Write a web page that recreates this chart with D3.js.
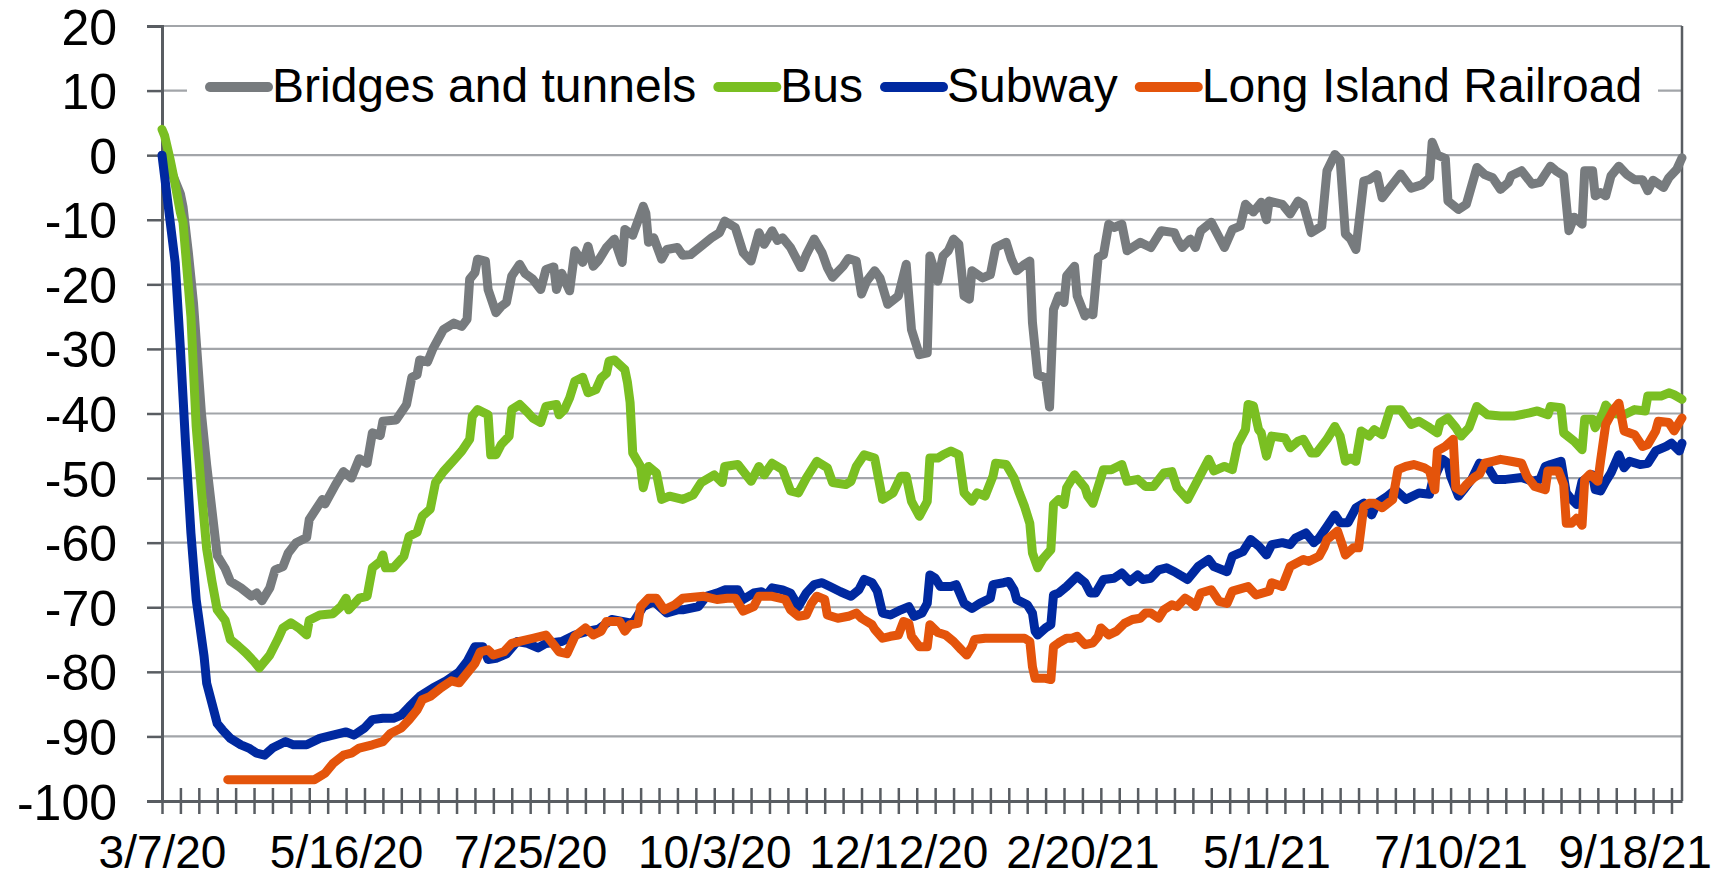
<!DOCTYPE html>
<html>
<head>
<meta charset="utf-8">
<script src="https://cdn.jsdelivr.net/npm/d3@7"></script>
<style>
  body { margin: 0; background: #fff; }
  svg text { font-family: "Liberation Sans", Arial, sans-serif; fill: #000; }
</style>
</head>
<body>
<div id="chart"></div>
<script>
// ridership, % change from pre-pandemic level
// each point is [days since startDate, value]
var startDate = "3/7/20";
var lastDay = 578;

var xTickLabels = ["3/7/20", "5/16/20", "7/25/20", "10/3/20", "12/12/20", "2/20/21", "5/1/21", "7/10/21", "9/18/21"];
var yTicks = [20, 10, 0, -10, -20, -30, -40, -50, -60, -70, -80, -90, -100];

var seriesNames = ["Bridges and tunnels", "Bus", "Subway", "Long Island Railroad"];
var seriesColors = ["#777b7e", "#7abf22", "#0029a0", "#e4540b"];

var bridgesTunnels = [[0,0],[4,-3],[7,-6],[8,-8],[10,-15],[12,-23],[15,-40],[17,-48],[19,-55],[21,-62],[24,-64],[26,-66],[30,-67],[34,-68.3],[36,-67.8],[38,-69],[41,-67],[43,-64.2],[46,-63.7],[48,-61.6],[51,-60],[55,-59.2],[56,-56.4],[61,-53.3],[62,-54],[66,-51],[69,-49],[72,-50],[75,-47],[78,-47.7],[80,-43],[83,-43.4],[84,-41.2],[89,-41],[93,-38.6],[95,-34.4],[97,-34],[98,-31.7],[101,-32],[103,-30],[105,-28.5],[107,-27],[111,-26],[114,-26.5],[116,-25.4],[117,-19.2],[119,-18.2],[120,-16.1],[123,-16.4],[124,-20.8],[127,-24.4],[129,-23.4],[131,-22.8],[133,-18.7],[136,-16.9],[138,-18.3],[141,-19.2],[144,-20.8],[146,-17.7],[149,-17.3],[150,-20.8],[152,-18.3],[155,-21],[157,-14.8],[160,-16.6],[162,-14.1],[164,-17.2],[166,-16.3],[169,-14.3],[172,-13],[175,-16.6],[176,-11.5],[179,-12.4],[183,-7.9],[184,-9],[185,-13.5],[187,-12.8],[190,-16.1],[192,-14.6],[196,-14.3],[198,-15.5],[201,-15.4],[205,-14.1],[209,-12.8],[212,-12],[214,-10.2],[218,-11.2],[221,-15.1],[224,-16.4],[227,-12],[229,-13.8],[232,-11.7],[234,-13.2],[236,-12.8],[239,-14.3],[243,-17.4],[245,-15.4],[248,-13],[251,-15.1],[253,-17.4],[255,-18.9],[259,-17.2],[261,-16],[264,-16.4],[266,-21.5],[268,-19.5],[271,-17.9],[273,-19],[276,-23.1],[280,-21.8],[283,-16.9],[285,-27],[288,-30.9],[291,-30.6],[292,-15.6],[295,-19.5],[297,-15.6],[299,-14.8],[301,-13],[303,-13.8],[305,-21.8],[307,-22.3],[308,-17.9],[312,-19],[315,-18.5],[317,-14.3],[321,-13.5],[323,-16.1],[325,-17.9],[328,-16.9],[330,-16.4],[331,-25.9],[333,-34],[336,-34.5],[337.5,-39],[339,-23.9],[341,-21.8],[343,-22.8],[344,-18.7],[347,-17.2],[348,-21.8],[351,-24.9],[352,-24.4],[354,-24.7],[356,-15.8],[358,-15.4],[360,-10.7],[362,-11.2],[365,-10.7],[367,-14.8],[372,-13.5],[376,-14.3],[380,-11.7],[385,-12],[386,-13],[388,-14.3],[391,-13],[393,-14.3],[395,-11.7],[399,-10.4],[404,-14.3],[407,-11.5],[410,-11],[412,-7.6],[415,-8.8],[418,-7.3],[420,-10],[421,-7.1],[426,-7.6],[429,-9.1],[432,-7.1],[434,-7.6],[437,-12],[441,-11],[443,-2.4],[446,0.1],[448,-0.7],[450,-12.2],[452,-13],[454,-14.6],[457,-4],[459,-3.8],[462,-3],[464,-6.6],[467,-5],[471,-2.9],[475,-5.1],[479,-4.6],[482,-3.5],[483,2],[485,0],[488,-0.5],[489,-7.1],[493,-8.4],[496,-7.6],[500,-1.9],[503,-3],[506,-3.5],[509,-5.3],[512,-4.2],[513,-3.2],[517,-2.4],[521,-4.5],[524,-4.2],[528,-1.7],[530,-2.4],[533,-3.2],[535,-11.7],[537,-9.6],[540,-10.7],[541,-2.4],[544,-2.4],[545,-6.3],[547,-5.8],[549,-6.3],[551,-3.2],[554,-1.7],[557,-3],[560,-3.8],[563,-3.8],[565,-5.5],[567,-3.9],[571,-5],[573,-3.5],[576,-2.2],[578,-0.4]];

var bus = [[0,4],[1,3],[3,-0.5],[5,-4.5],[7,-8.9],[8,-10.4],[11,-25],[13,-42],[15,-52],[17,-61],[19,-66],[21,-70.4],[24,-72],[26,-75],[29,-76],[32,-77.1],[35,-78.4],[37,-79.4],[41,-77.4],[44,-75],[46,-73.2],[49,-72.4],[52,-73.2],[55,-74.3],[56,-72],[60,-71.2],[65,-71],[68,-69.9],[70,-68.6],[71,-70.4],[75,-68.6],[78,-68.3],[80,-63.9],[83,-62.9],[84,-61.9],[85,-63.9],[88,-63.9],[92,-62.1],[94,-59],[97,-58.4],[99,-55.9],[102,-54.8],[104,-50.7],[107,-49],[111,-47.2],[114,-45.8],[117,-44],[118,-40.4],[120,-39.4],[124,-40.2],[125,-46.4],[127,-46.4],[129,-44.8],[132,-43.5],[133,-39.4],[136,-38.6],[139,-39.8],[141,-40.7],[144,-41.4],[146,-38.9],[150,-38.6],[151,-40.2],[153,-39.4],[155,-37.6],[157,-35],[160,-34.4],[162,-36.8],[165,-36.3],[167,-34.5],[169,-33.8],[170,-31.9],[172,-31.7],[176,-33.2],[177,-35.2],[178,-38.3],[179,-46.1],[182,-48.2],[183,-51.5],[185,-48.2],[188,-49.2],[190,-53.3],[193,-52.8],[198,-53.3],[202,-52.6],[205,-50.7],[210,-49.5],[213,-50.7],[214,-48.2],[219,-47.9],[224,-50.5],[227,-48.2],[229,-49.5],[232,-47.7],[236,-48.7],[239,-52],[242,-52.3],[245,-50],[249,-47.4],[253,-48.4],[255,-50.7],[260,-51],[262,-50.5],[264,-48.2],[267,-46.4],[271,-46.9],[274,-53.3],[278,-52.3],[281,-49.7],[283,-49.7],[285,-53.6],[288,-55.9],[291,-53.6],[292,-46.9],[295,-46.9],[297,-46.4],[300,-45.8],[303,-46.4],[305,-52.3],[308,-53.6],[310,-52.3],[313,-52.8],[316,-49.7],[317,-47.7],[321,-47.9],[324,-50],[326,-52.3],[328,-54.4],[330,-57],[331,-61.6],[333,-63.9],[335,-62.5],[338,-61.1],[339,-54.1],[341,-53.3],[343,-54.1],[344,-51.5],[347,-49.5],[351,-51.5],[352,-52.8],[354,-53.9],[356,-51.3],[358,-48.7],[361,-48.7],[365,-47.9],[367,-50.5],[371,-50.2],[374,-51.3],[377,-51.3],[381,-49.2],[384,-49],[386,-51.5],[390,-53.3],[394,-50.2],[398,-47.1],[400,-48.9],[404,-48.2],[407,-48.7],[409,-44.8],[412,-42.5],[413,-38.6],[415,-38.8],[417,-42.5],[418,-43],[420,-46.6],[422,-43.5],[427,-43.8],[429,-45.3],[432,-44.3],[434,-44],[437,-46.1],[439,-46.1],[443,-44],[446,-42],[448,-43.5],[450,-47.4],[452,-46.9],[454,-47.4],[456,-42.7],[459,-43.5],[461,-42.5],[464,-43.3],[467,-39.4],[471,-39.4],[475,-41.7],[478,-41.2],[482,-42.2],[485,-43],[486,-41.4],[489,-40.7],[492,-42.2],[494,-43.5],[497,-42.2],[500,-38.9],[504,-40.2],[509,-40.4],[514,-40.4],[520,-39.9],[523,-39.6],[527,-40.2],[528,-38.9],[532,-39.1],[533,-43],[537,-44.3],[540,-45.6],[541,-40.9],[544,-40.9],[545,-42.2],[548,-39.9],[549,-38.7],[552,-40],[556,-40.2],[560,-39.4],[564,-39.6],[565,-37.3],[570,-37.3],[573,-36.8],[575,-37.1],[578,-37.8]];

var subway = [[0,0],[5,-16.6],[7,-30],[9,-45],[11,-58.5],[13,-68.8],[16,-77.6],[17,-81.8],[19,-84.9],[21,-88],[23,-89],[26,-90.3],[30,-91.3],[33,-91.8],[36,-92.6],[39,-92.9],[42,-91.8],[47,-90.8],[50,-91.3],[55,-91.3],[60,-90.3],[65,-89.8],[70,-89.3],[73,-89.8],[77,-88.7],[80,-87.4],[84,-87.2],[88,-87.2],[91,-86.7],[94,-85.4],[98,-83.8],[103,-82.5],[108,-81.4],[113,-80],[116,-78.4],[119,-76.1],[122,-76.1],[124,-78.1],[127,-77.9],[131,-77.2],[135,-75.3],[139,-75.6],[143,-76.3],[146,-75.6],[152,-75.3],[157,-74.3],[162,-73.7],[166,-73.4],[171,-71.9],[175,-72.2],[179,-72.5],[183,-69.9],[187,-69.1],[192,-70.9],[196,-70.4],[198,-70.4],[204,-69.9],[207,-68.3],[211,-67.8],[214,-67.3],[219,-67.3],[221,-68.8],[225,-67.8],[228,-67.6],[230,-68.1],[232,-67],[236,-67.3],[239,-67.8],[242,-69.9],[245,-67.8],[248,-66.5],[251,-66.2],[254,-66.8],[258,-67.6],[262,-68.3],[265,-67.3],[267,-65.7],[270,-66.2],[272,-67.5],[274,-70.9],[277,-71.2],[281,-70.4],[284,-69.9],[286,-71.4],[289,-70.9],[291,-69.4],[292,-65],[294,-65.5],[296,-66.8],[300,-66.8],[302,-66.5],[305,-69.4],[308,-70.2],[311,-69.4],[315,-68.6],[316,-66.5],[320,-66.2],[322,-66],[324,-67.3],[325,-68.8],[329,-69.6],[331,-70.9],[332,-73.7],[333,-74.3],[336,-73.2],[338,-72.7],[339,-68.1],[341,-67.8],[344,-66.8],[348,-65.2],[351,-66.2],[353,-67.8],[355,-67.8],[358,-65.7],[362,-65.5],[365,-64.7],[368,-66],[371,-65],[373,-65.7],[376,-65.5],[379,-64.2],[382,-63.9],[385,-64.5],[387,-65],[390,-65.7],[394,-63.7],[398,-62.6],[400,-63.7],[405,-64.5],[407,-62.1],[411,-61.4],[414,-59.5],[417,-60.5],[420,-61.9],[422,-60.3],[426,-60],[429,-60.3],[431,-59.3],[435,-58.5],[438,-60],[440,-59.3],[443,-57.5],[446,-55.7],[448,-56.9],[451,-56.9],[454,-54.6],[457,-53.9],[460,-55.7],[462,-53.9],[466,-52.8],[469,-51.8],[473,-53.3],[478,-52.3],[482,-52.5],[483,-50.7],[487,-47.1],[489,-47.7],[490,-49.7],[493,-52.8],[495,-51.8],[498,-50.2],[501,-47.7],[504,-48.2],[507,-50.2],[511,-50.2],[517,-49.9],[521,-50.5],[524,-50.2],[526,-48.2],[528,-47.9],[532,-47.4],[534,-52.3],[536,-53.3],[538,-54.1],[540,-50.5],[544,-49.5],[545,-51.8],[547,-52],[549,-50.5],[551,-49.2],[554,-46.4],[556,-48.4],[558,-47.4],[562,-47.9],[565,-47.7],[568,-45.8],[572,-45.1],[574,-44.6],[577,-45.8],[578,-44.6]];

var longIslandRailroad = [[25,-96.7],[58,-96.7],[62,-95.7],[65,-94.2],[69,-92.9],[72,-92.6],[75,-91.8],[80,-91.3],[84,-90.8],[87,-89.5],[91,-88.7],[94,-87.4],[97,-85.9],[99,-84.3],[102,-83.8],[106,-82.5],[110,-81.4],[113,-81.7],[116,-80.2],[119,-78.7],[121,-76.9],[124,-76.6],[126,-77.4],[130,-76.9],[133,-75.6],[136,-75.3],[141,-74.8],[146,-74.3],[148,-75.3],[151,-76.9],[154,-77.2],[157,-74.5],[161,-73.2],[164,-74.3],[167,-73.7],[169,-72.2],[174,-72.2],[176,-73.7],[178,-72.7],[181,-72.5],[182,-69.9],[185,-68.6],[188,-68.6],[191,-70.4],[195,-69.6],[198,-68.6],[206,-68.3],[211,-68.8],[215,-68.6],[218,-68.6],[221,-70.6],[225,-69.9],[227,-68.3],[232,-68.3],[237,-68.8],[239,-70.4],[242,-71.4],[245,-71.2],[247,-69.4],[249,-68.3],[252,-68.8],[253,-71.2],[257,-71.7],[261,-71.4],[264,-70.9],[266,-71.7],[270,-72.7],[271,-73.4],[274,-74.8],[277,-74.5],[280,-74.3],[282,-72.2],[284,-72.5],[285,-74.5],[288,-76.1],[291,-76.1],[292,-72.7],[295,-73.9],[298,-74.3],[301,-75.3],[304,-76.6],[306,-77.4],[308,-76.1],[309,-75],[313,-74.8],[322,-74.8],[328,-74.8],[330,-75.3],[331,-79.2],[332,-81],[336,-81],[338,-81.2],[339,-76.1],[341,-75.5],[344,-74.8],[346,-74.8],[348,-74.5],[351,-75.8],[354,-75.5],[356,-74.5],[357,-73.2],[360,-74.3],[363,-73.7],[366,-72.5],[369,-71.9],[372,-71.7],[374,-70.9],[376,-70.9],[379,-71.7],[381,-70.4],[384,-69.6],[386,-69.9],[389,-68.6],[391,-69.1],[393,-69.9],[395,-67.8],[399,-67.3],[402,-69.1],[405,-69.4],[407,-67.5],[413,-66.8],[416,-68.1],[421,-67.5],[422,-66.2],[426,-66.8],[428,-64.7],[429,-63.7],[434,-62.6],[436,-62.9],[440,-62.1],[442,-60.6],[443,-59.5],[447,-58.2],[449,-60.6],[450,-61.9],[453,-60.8],[455,-60.8],[457,-54.4],[459,-53.9],[461,-53.9],[464,-54.6],[468,-53.3],[470,-48.7],[473,-48.2],[476,-47.9],[480,-48.4],[482,-48.9],[484,-51.8],[485,-45.8],[488,-45.1],[491,-44],[492,-51.5],[494,-52],[496,-51],[499,-49.9],[501,-49.4],[503,-47.7],[506,-47.4],[509,-47.1],[513,-47.4],[517,-47.7],[519,-49.7],[522,-51.3],[526,-51.8],[527,-48.9],[531,-48.9],[533,-51],[534,-57],[536,-57],[538,-56.2],[540,-57.3],[541,-50.2],[543,-49.4],[546,-50.5],[547,-47.4],[549,-41.7],[552,-39.4],[554,-38.4],[556,-42.7],[560,-43.3],[563,-45.1],[565,-44.8],[568,-42.7],[569,-41.2],[573,-41.4],[575,-42.7],[578,-40.7]];

var allSeries = [bridgesTunnels, bus, subway, longIslandRailroad];

var width = 1727;
var height = 878;
var plotLeft = 162, plotRight = 1682, plotTop = 26, plotBottom = 801;
var axisColor = "#595d62";
var gridColor = "#a2a5a9";

var parseDate = d3.timeParse("%m/%d/%y");
var start = parseDate(startDate);
function toDate(day) { return new Date(start.getTime() + day * 864e5); }

var svg = d3.select("#chart")
    .append("svg")
    .attr("width", width)
    .attr("height", height)
    .style("display", "block")
    .style("background", "#fff");

var x = d3.scaleTime()
    .domain([start, toDate(lastDay)])
    .range([plotLeft, plotRight]);

var y = d3.scaleLinear()
    .domain([-100, 20])
    .range([plotBottom, plotTop]);

// horizontal gridlines
svg.append("g")
    .selectAll("line")
    .data(yTicks)
    .enter()
    .append("line")
    .attr("x1", plotLeft)
    .attr("x2", plotRight)
    .attr("y1", function(d) { return y(d); })
    .attr("y2", function(d) { return y(d); })
    .attr("stroke", gridColor)
    .attr("stroke-width", 2.2);

// right border of plot area
svg.append("line")
    .attr("x1", plotRight).attr("x2", plotRight)
    .attr("y1", plotTop).attr("y2", plotBottom)
    .attr("stroke", axisColor)
    .attr("stroke-width", 2.5);

// y axis
var yAxis = svg.append("g")
    .attr("transform", "translate(" + plotLeft + ",0)")
    .call(d3.axisLeft(y)
        .tickValues(yTicks)
        .tickSize(15)
        .tickPadding(30)
        .tickFormat(function(d) { return String(d); }));

yAxis.select(".domain").attr("stroke", axisColor).attr("stroke-width", 3);
yAxis.selectAll(".tick line").attr("stroke", axisColor).attr("stroke-width", 2.5);
yAxis.selectAll("text").style("font-size", "50px").attr("dy", "0.36em");

// weekly tick marks crossing the x axis
var weekly = d3.timeSaturday.range(start, d3.timeDay.offset(toDate(lastDay), 1));
var minor = svg.append("g")
    .attr("transform", "translate(0," + (plotBottom - 13) + ")")
    .call(d3.axisBottom(x)
        .tickValues(weekly)
        .tickSize(26)
        .tickFormat(""));
minor.select(".domain").remove();
minor.selectAll(".tick line").attr("stroke", axisColor).attr("stroke-width", 2.5);

// x axis labels
var xAxis = svg.append("g")
    .attr("transform", "translate(0," + plotBottom + ")")
    .call(d3.axisBottom(x)
        .tickValues(xTickLabels.map(parseDate))
        .tickSize(0)
        .tickPadding(34)
        .tickFormat(d3.timeFormat("%-m/%-d/%y")));
xAxis.select(".domain").attr("stroke", axisColor).attr("stroke-width", 3);
xAxis.selectAll("text").style("font-size", "46px");

// series lines
var line = d3.line()
    .x(function(d) { return x(toDate(d[0])); })
    .y(function(d) { return y(d[1]); });

svg.append("g")
    .selectAll("path")
    .data(allSeries)
    .enter()
    .append("path")
    .attr("d", line)
    .attr("fill", "none")
    .attr("stroke", function(d, i) { return seriesColors[i]; })
    .attr("stroke-width", 9)
    .attr("stroke-linejoin", "round")
    .attr("stroke-linecap", "round");

// legend
svg.append("rect")
    .attr("x", 187)
    .attr("y", 44)
    .attr("width", 1471)
    .attr("height", 88)
    .attr("fill", "#fff");

var legendX = 210;
var legendY = 87;
seriesNames.forEach(function(name, i) {
    svg.append("line")
        .attr("x1", legendX).attr("x2", legendX + 58)
        .attr("y1", legendY).attr("y2", legendY)
        .attr("stroke", seriesColors[i])
        .attr("stroke-width", 10)
        .attr("stroke-linecap", "round");
    var label = svg.append("text")
        .attr("x", legendX + 62)
        .attr("y", 102)
        .style("font-size", "48px")
        .text(name);
    legendX += 62 + label.node().getComputedTextLength() + 22;
});
</script>
</body>
</html>
